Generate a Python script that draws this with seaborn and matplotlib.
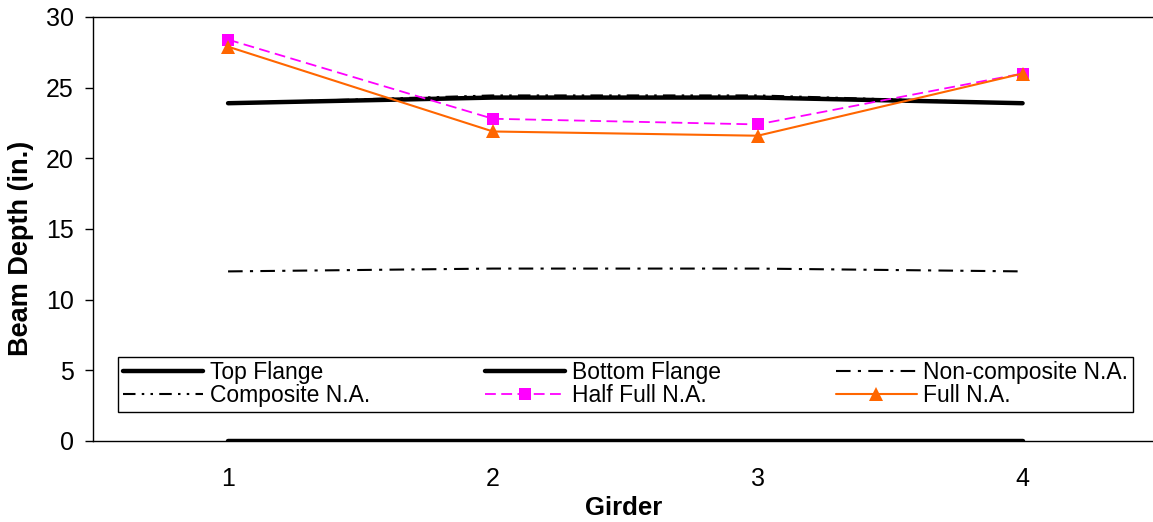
import matplotlib
matplotlib.use("Agg")
import matplotlib.pyplot as plt
import seaborn as sns

sns.set_style("white")
plt.rcParams["font.family"] = ["Liberation Sans", "DejaVu Sans"]
plt.rcParams["text.color"] = "black"
plt.rcParams["axes.labelcolor"] = "black"
plt.rcParams["xtick.color"] = "black"
plt.rcParams["ytick.color"] = "black"

girders = [1, 2, 3, 4]
top_flange = [23.9, 24.3, 24.3, 23.9]
bottom_flange = [0.0, 0.0, 0.0, 0.0]
noncomposite_na = [12.0, 12.2, 12.2, 12.0]
composite_na = [23.9, 24.45, 24.45, 23.9]
half_full_na = [28.4, 22.8, 22.4, 26.0]
full_na = [27.9, 21.9, 21.6, 26.0]

fig = plt.figure(figsize=(11.53, 5.22), dpi=100)
ax = fig.add_axes([93 / 1153, 81 / 522, 1062 / 1153, 424 / 522])

h_top = sns.lineplot(x=girders, y=top_flange, ax=ax, color="black", lw=3.2,
                     label="Top Flange").lines[-1]
h_bot = sns.lineplot(x=girders, y=bottom_flange, ax=ax, color="black", lw=3.2,
                     label="Bottom Flange").lines[-1]
h_comp = sns.lineplot(x=girders, y=composite_na, ax=ax, color="black", lw=1.5,
                      linestyle=(0, (6, 3, 1.2, 3, 1.2, 3)), label="Composite N.A.").lines[-1]
h_non = sns.lineplot(x=girders, y=noncomposite_na, ax=ax, color="black", lw=1.5,
                     linestyle=(0, (7, 3.5, 1.5, 3.5)), label="Non-composite N.A.").lines[-1]
h_half = sns.lineplot(x=girders, y=half_full_na, ax=ax, color="#FF00FF", lw=1.3,
                      linestyle=(0, (6, 3)), marker="s", markersize=8, markeredgewidth=0,
                      label="Half Full N.A.").lines[-1]
h_full = sns.lineplot(x=girders, y=full_na, ax=ax, color="#FF6600", lw=1.5,
                      marker="^", markersize=10, markeredgewidth=0,
                      label="Full N.A.").lines[-1]

ax.set_xlim(0.49, 4.5)
ax.set_ylim(0, 30)
ax.set_xticks(girders)
ax.set_yticks(range(0, 31, 5))
ax.tick_params(axis="y", direction="out", length=6, width=1, labelsize=18, pad=8, left=True)
ax.tick_params(axis="x", length=0, labelsize=18, pad=19)
for side in ["left", "bottom", "top"]:
    ax.spines[side].set_color("black")
    ax.spines[side].set_linewidth(1)
ax.spines["right"].set_visible(False)

ax.set_xlabel("Girder", fontsize=18.5, fontweight="bold", labelpad=3)
ax.set_ylabel("Beam Depth (in.)", fontsize=19.5, fontweight="bold", labelpad=8, y=0.455)

handles = [h_top, h_comp, h_bot, h_half, h_non, h_full]
labels = ["Top Flange", "Composite N.A.", "Bottom Flange", "Half Full N.A.",
          "Non-composite N.A.", "Full N.A."]
leg = ax.legend(handles, labels, ncol=3, loc="lower left", mode="expand",
                bbox_to_anchor=(25 / 1062, 29 / 424, 1015 / 1062, 55 / 424),
                fontsize=16.5, handlelength=3.5, handletextpad=0.3, labelspacing=0.0,
                borderpad=0.2, frameon=True, fancybox=False, framealpha=1,
                borderaxespad=0)
leg.get_frame().set_edgecolor("black")
leg.get_frame().set_linewidth(1)

fig.savefig("out.png", dpi=100)
